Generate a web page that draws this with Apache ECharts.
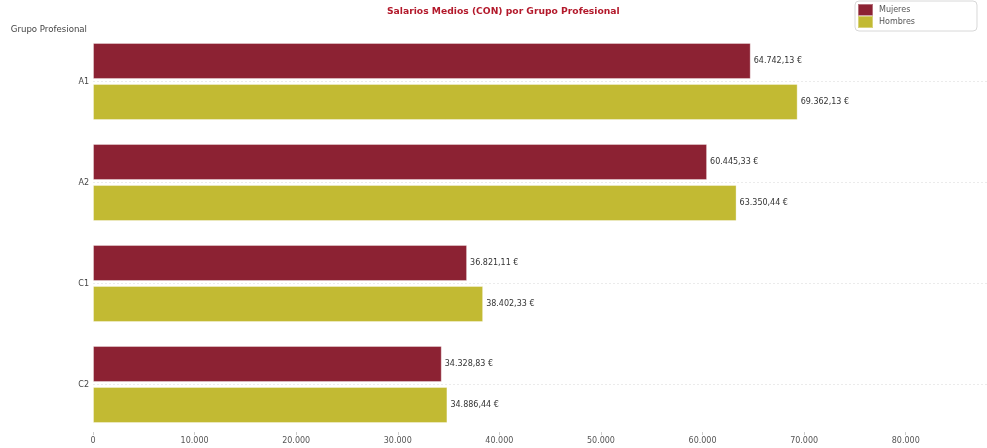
<!DOCTYPE html>
<html>
<head>
<meta charset="utf-8">
<script src="https://cdn.jsdelivr.net/npm/echarts@6/dist/echarts.min.js"></script>
<style>
  html, body { margin: 0; padding: 0; background: #fff; }
  #chart { width: 987px; height: 448px; }
</style>
</head>
<body>
<div id="chart"></div>
<script>
// grupos profesionales (de arriba a abajo)
var categories = ['A1', 'A2', 'C1', 'C2'];
var mujeres = [64742.13, 60445.33, 36821.11, 34328.83];
var hombres = [69362.13, 63350.44, 38402.33, 34886.44];
var xTicks = [0, 10000, 20000, 30000, 40000, 50000, 60000, 70000, 80000];

function miles(n) {
  return String(Math.round(n)).replace(/\B(?=(\d{3})+(?!\d))/g, '.');
}
function euros(n) {
  var parts = n.toFixed(2).split('.');
  return miles(Number(parts[0])) + ',' + parts[1] + ' €';
}

var chart = echarts.init(document.getElementById('chart'));

var labelOpt = {
  show: true,
  position: 'right',
  distance: 3,
  color: '#333',
  fontSize: 8,
  formatter: function (p) { return euros(p.value); }
};

var option = {
  animation: false,
  textStyle: { fontFamily: 'DejaVu Sans' },
  title: {
    text: 'Salarios Medios (CON) por Grupo Profesional',
    left: 387,
    top: 7,
    padding: 0,
    textStyle: { color: '#b3192b', fontSize: 9.2, fontWeight: 'bold', fontFamily: 'DejaVu Sans' }
  },
  legend: {
    orient: 'vertical',
    left: 855,
    top: 1,
    itemWidth: 15,
    itemHeight: 12,
    itemGap: -2,
    icon: 'rect',
    padding: [2, 62, 2, 2],
    borderColor: '#d8d8d8',
    borderWidth: 1,
    borderRadius: 4,
    textStyle: { color: '#555', fontSize: 8, padding: [0, 0, 0, 1] },
    data: ['Mujeres', 'Hombres']
  },
  grid: { left: 93, right: 0, top: 31, bottom: 13, containLabel: false },
  xAxis: {
    type: 'value',
    min: 0,
    max: 88000,
    interval: 10000,
    axisLine: { show: false },
    axisTick: { show: true, inside: true, length: 3, lineStyle: { color: '#ccc' } },
    splitLine: { show: false },
    axisLabel: {
      color: '#555',
      fontSize: 8,
      margin: 2,
      showMaxLabel: false,
      formatter: function (v) { return xTicks.indexOf(v) >= 0 ? miles(v) : ''; }
    }
  },
  yAxis: {
    type: 'category',
    data: categories,
    inverse: true,
    name: 'Grupo Profesional',
    nameLocation: 'start',
    nameGap: -3,
    nameTextStyle: { color: '#444', fontSize: 8.6, align: 'right', verticalAlign: 'bottom', padding: [0, 6, 0, 0] },
    axisLine: { show: false },
    axisTick: { show: false },
    axisLabel: { color: '#444', fontSize: 8, margin: 4 },
    splitLine: {
      show: true,
      alignWithLabel: true,
      lineStyle: { color: '#ebebeb', type: [2, 2] }
    }
  },
  series: [
    {
      name: 'Mujeres',
      type: 'bar',
      data: mujeres,
      barWidth: 36,
      barGap: '14%',
      itemStyle: { color: '#8c2233', borderColor: 'rgba(255,255,255,0.35)', borderWidth: 1 },
      label: labelOpt
    },
    {
      name: 'Hombres',
      type: 'bar',
      data: hombres,
      barWidth: 36,
      itemStyle: { color: '#c2ba33', borderColor: 'rgba(255,255,255,0.35)', borderWidth: 1 },
      label: labelOpt
    }
  ]
};

chart.setOption(option);
</script>
</body>
</html>
